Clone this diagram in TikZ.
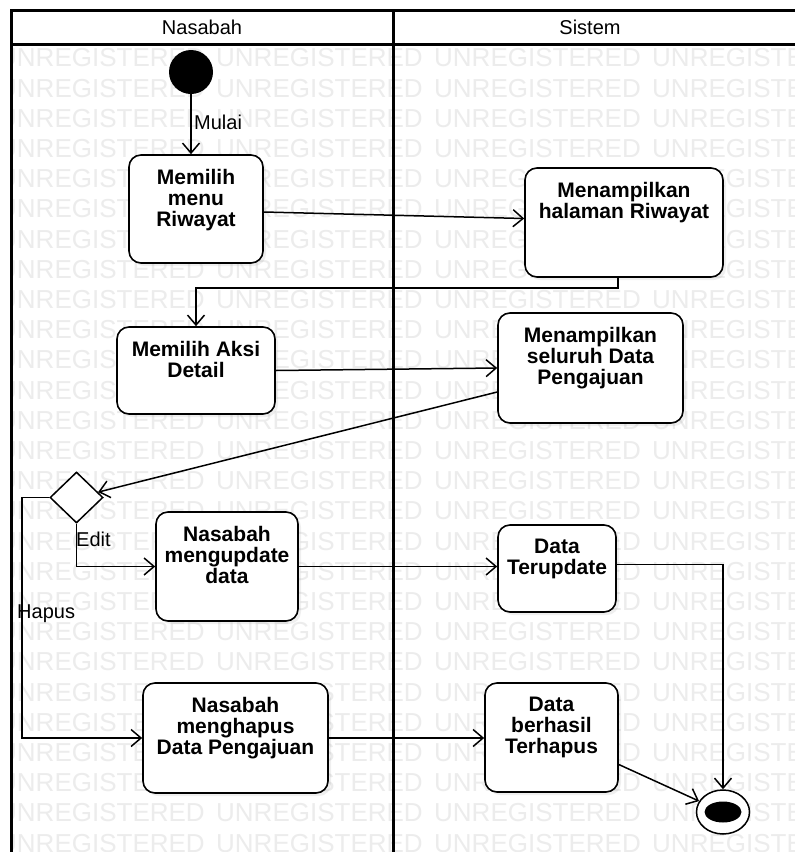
\documentclass[tikz,border=0pt]{standalone}
\usepackage{fontspec}
\setmainfont{Liberation Sans}
\usetikzlibrary{arrows.meta,shapes.geometric,shadows}
\begin{document}
\begin{tikzpicture}[x=1pt,y=-1pt,
  frame/.style={line width=3pt},
  actbox/.style={draw, line width=1.6pt, rounded corners=12pt, fill=white, inner sep=0pt,
    drop shadow={shadow xshift=3pt,shadow yshift=-3pt,opacity=0.12}},
  acttext/.style={font=\fontsize{21}{21}\selectfont\bfseries, align=center, inner sep=0pt, anchor=north},
  flow/.style={line width=1.5pt, -{Straight Barb[length=10pt,width=17pt,line width=1.5pt]}},
  lbl/.style={font=\fontsize{20}{22}\selectfont, inner sep=0pt, anchor=west},
  hdr/.style={font=\fontsize{20}{22}\selectfont, inner sep=0pt},
  wm/.style={font=\fontsize{26}{26}\selectfont, text=gray!15, inner sep=0pt, anchor=west},
]
\useasboundingbox (0,0) rectangle (795,852);
\fill[white] (0,0) rectangle (795,852);

% watermark
\begin{scope}
\clip (12,45) rectangle (795,852);
\foreach \r in {0,...,26} {
  \foreach \c in {0,...,3} {
    \node[wm] (wm-\r-\c) at ({-2+218*\c},{58+30.2*\r}) {UNREGISTERED};
  }
}
\end{scope}

% swimlane frame
\draw[frame] (11,852) -- (11,10) -- (795,10);
\draw[frame] (11,44) -- (795,44);
\draw[frame] (393,10) -- (393,852);
\node[hdr] (hN) at (202,27) {Nasabah};
\node[hdr] (hS) at (590,27) {Sistem};

% start
\node[circle, fill=black, minimum size=44pt, inner sep=0pt] (S) at (191,72) {};

% activities
\node[actbox, minimum width=134pt, minimum height=108pt] (A) at (196,209) {};
\node[acttext] (At) at ([yshift=-14.5pt]A.north) {Memilih\\menu\\Riwayat};

\node[actbox, minimum width=198pt, minimum height=109pt] (B) at (624,222.5) {};
\node[acttext] (Bt) at ([yshift=-14.5pt]B.north) {Menampilkan\\halaman Riwayat};

\node[actbox, minimum width=158pt, minimum height=87pt] (C) at (196,370.5) {};
\node[acttext] (Ct) at ([yshift=-14.5pt]C.north) {Memilih Aksi\\Detail};

\node[actbox, minimum width=185pt, minimum height=110pt] (D) at (590.5,368) {};
\node[acttext] (Dt) at ([yshift=-14.5pt]D.north) {Menampilkan\\seluruh Data\\Pengajuan};

\node[diamond, draw, line width=1.5pt, fill=white, minimum width=53pt, minimum height=51pt, inner sep=0pt] (Dec) at (76.5,497.5) {};

\node[actbox, minimum width=142pt, minimum height=109pt] (E) at (227,566.5) {};
\node[acttext] (Et) at ([yshift=-14.5pt]E.north) {Nasabah\\mengupdate\\data};

\node[actbox, minimum width=118pt, minimum height=87pt] (F) at (557,568.5) {};
\node[acttext] (Ft) at ([yshift=-14.5pt]F.north) {Data\\Terupdate};

\node[actbox, minimum width=185pt, minimum height=110pt] (G) at (235.5,738) {};
\node[acttext] (Gt) at ([yshift=-14.5pt]G.north) {Nasabah\\menghapus\\Data Pengajuan};

\node[actbox, minimum width=133pt, minimum height=109pt] (H) at (551.5,737.5) {};
\node[acttext] (Ht) at ([yshift=-14.5pt]H.north) {Data\\berhasil\\Terhapus};

% end
\node[ellipse, draw, line width=1.5pt, fill=white, minimum width=53pt, minimum height=44pt, inner sep=0pt] (End) at (723,812) {};
\node[ellipse, fill=black, minimum width=37pt, minimum height=21pt, inner sep=0pt] (EndIn) at (End) {};

% connectors
\draw[flow] (S) -- (S |- A.north);
\node[lbl] (mulai) at (194,122) {Mulai};
\draw[flow] ([yshift=-3pt]A.east) -- ([yshift=4pt]B.west);
\draw[flow] ([xshift=-6pt]B.south) -- ++(0,10) -| (C.north);
\draw[flow] (C.east) -- (D.west);
\draw[flow] ([yshift=-24pt]D.west) -- (Dec);
\draw[flow] (Dec.south) |- (E.west);
\node[lbl] (edit) at (76,539) {Edit};
\draw[flow] (Dec.west) -- ++(-27.5,0) |- (G.west);
\node[lbl] (hapus) at (17,614) {Hapus};
\draw[flow] (E.east) -- (E.east -| F.west);
\draw[flow] ([yshift=4pt]F.east) -| (End.north);
\draw[flow] (G.east) -- (G.east -| H.west);
\draw[flow] ([yshift=-27pt]H.east) -- (End);
\end{tikzpicture}
\end{document}
